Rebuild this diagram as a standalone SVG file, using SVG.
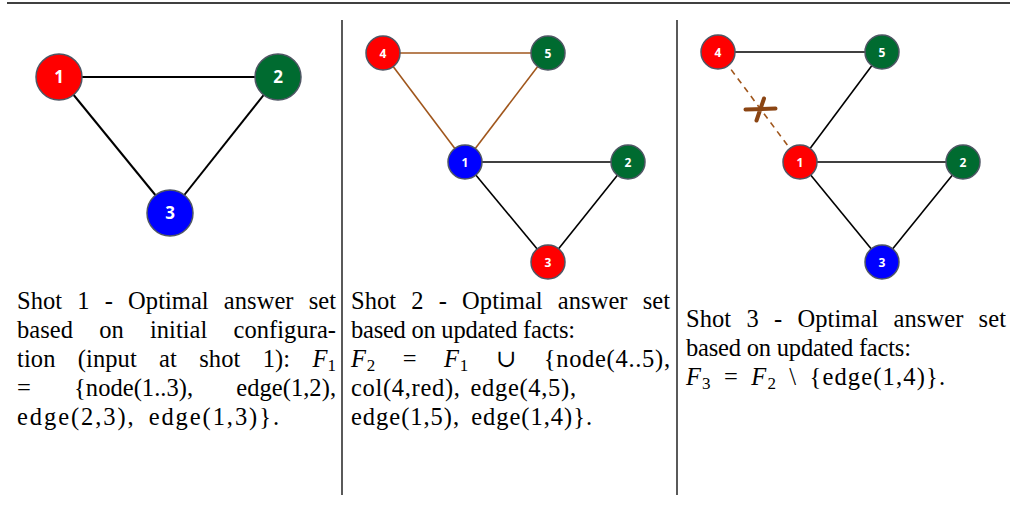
<svg xmlns="http://www.w3.org/2000/svg" width="1014" height="512" viewBox="0 0 1014 512">
<style>
.rule{stroke:#000;stroke-width:1.3}
.sep{stroke:#000;stroke-width:1.3}
.e{stroke:#000;stroke-width:2;fill:none}
.e2{stroke:#000;stroke-width:1.6;fill:none}
.b{stroke:#A0561C;stroke-width:1.6;fill:none}
.bd{stroke:#A0561C;stroke-width:1.6;fill:none;stroke-dasharray:6 5}
.x{stroke:#8B4513;stroke-width:4;stroke-linecap:round;fill:none}
.n{stroke:#4F5664;stroke-width:1.5}
.red{fill:#FF0000}.grn{fill:#006B30}.blu{fill:#0000FF}
.lb{font-family:"Open Sans","Liberation Sans",sans-serif;font-weight:bold;fill:#fff;text-anchor:middle}
.big{font-size:17px}.sm{font-size:12px}
.t{font-family:"Liberation Serif","DejaVu Serif",serif;font-size:24.5px;fill:#000}
.m{font-style:italic}
</style>
<line class="rule" x1="7" y1="3" x2="1010" y2="3"/>
<line class="sep" x1="342" y1="20" x2="342" y2="495"/>
<line class="sep" x1="677" y1="20" x2="677" y2="495"/>

<g id="connectors">
  <line class="e" x1="59" y1="77" x2="278" y2="77"/>
  <line class="e" x1="59" y1="77" x2="170" y2="213"/>
  <line class="e" x1="278" y1="77" x2="170" y2="213"/>

  <line class="b" x1="383" y1="53" x2="548" y2="53"/>
  <line class="b" x1="383" y1="53" x2="465" y2="162"/>
  <line class="b" x1="548" y1="53" x2="465" y2="162"/>
  <line class="e2" x1="465" y1="162" x2="628" y2="162"/>
  <line class="e2" x1="465" y1="162" x2="548" y2="262"/>
  <line class="e2" x1="628" y1="162" x2="548" y2="262"/>

  <line class="e2" x1="718" y1="52" x2="882" y2="52"/>
  <line class="bd" x1="718" y1="52" x2="800" y2="162"/>
  <line class="e2" x1="882" y1="52" x2="800" y2="162"/>
  <line class="e2" x1="800" y1="162" x2="963" y2="162"/>
  <line class="e2" x1="800" y1="162" x2="882" y2="262"/>
  <line class="e2" x1="963" y1="162" x2="882" y2="262"/>
  <path class="x" d="M745.5 109.5 L775.5 108.5 M764 98.5 L756.5 120.5"/>
</g>

<g id="p1n1"><circle class="n red" cx="59" cy="77" r="23"/><text class="lb big" x="59" y="83">1</text></g>
<g id="p1n2"><circle class="n grn" cx="278" cy="77" r="23"/><text class="lb big" x="278" y="83">2</text></g>
<g id="p1n3"><circle class="n blu" cx="170" cy="213" r="23"/><text class="lb big" x="170" y="219">3</text></g>

<g id="p2n4"><circle class="n red" cx="383" cy="53" r="17"/><text class="lb sm" x="383" y="57.5">4</text></g>
<g id="p2n5"><circle class="n grn" cx="548" cy="53" r="17"/><text class="lb sm" x="548" y="57.5">5</text></g>
<g id="p2n1"><circle class="n blu" cx="465" cy="162" r="17"/><text class="lb sm" x="465" y="166.5">1</text></g>
<g id="p2n2"><circle class="n grn" cx="628" cy="162" r="17"/><text class="lb sm" x="628" y="166.5">2</text></g>
<g id="p2n3"><circle class="n red" cx="548" cy="262" r="17"/><text class="lb sm" x="548" y="266.5">3</text></g>

<g id="p3n4"><circle class="n red" cx="718" cy="52" r="17"/><text class="lb sm" x="718" y="56.5">4</text></g>
<g id="p3n5"><circle class="n grn" cx="882" cy="52" r="17"/><text class="lb sm" x="882" y="56.5">5</text></g>
<g id="p3n1"><circle class="n red" cx="800" cy="162" r="17"/><text class="lb sm" x="800" y="166.5">1</text></g>
<g id="p3n2"><circle class="n grn" cx="963" cy="162" r="17"/><text class="lb sm" x="963" y="166.5">2</text></g>
<g id="p3n3"><circle class="n blu" cx="882" cy="262" r="17"/><text class="lb sm" x="882" y="266.5">3</text></g>

<g id="caption1" class="t">
  <text x="17" y="309" word-spacing="9" textLength="319" lengthAdjust="spacing">Shot 1 - Optimal answer set</text>
  <text x="17" y="338" word-spacing="20" textLength="319" lengthAdjust="spacing">based on initial configura-</text>
  <text x="17" y="367" word-spacing="16" textLength="319" lengthAdjust="spacing">tion (input at shot 1): <tspan class="m">F</tspan><tspan font-size="17" dy="4">1</tspan></text>
  <text x="17" y="396" word-spacing="37" textLength="319" lengthAdjust="spacing">= {node(1..3), edge(1,2),</text>
  <text x="17" y="425" word-spacing="5" textLength="262" lengthAdjust="spacing">edge(2,3), edge(1,3)}.</text>
</g>
<g id="caption2" class="t">
  <text x="351" y="309" word-spacing="9" textLength="319" lengthAdjust="spacing">Shot 2 - Optimal answer set</text>
  <text x="351" y="338" textLength="224" lengthAdjust="spacing">based on updated facts:</text>
  <text x="351" y="367" word-spacing="20" textLength="319" lengthAdjust="spacing"><tspan class="m">F</tspan><tspan font-size="17" dy="4">2</tspan><tspan dy="-4"> = </tspan><tspan class="m">F</tspan><tspan font-size="17" dy="4">1</tspan><tspan dy="-4"> ∪ {node(4..5),</tspan></text>
  <text x="351" y="396" word-spacing="3" textLength="225" lengthAdjust="spacing">col(4,red), edge(4,5),</text>
  <text x="351" y="425" word-spacing="4" textLength="241" lengthAdjust="spacing">edge(1,5), edge(1,4)}.</text>
</g>
<g id="caption3" class="t">
  <text x="686" y="327" word-spacing="9" textLength="320" lengthAdjust="spacing">Shot 3 - Optimal answer set</text>
  <text x="686" y="356" textLength="225" lengthAdjust="spacing">based on updated facts:</text>
  <text x="686" y="385" word-spacing="5" textLength="259" lengthAdjust="spacing"><tspan class="m">F</tspan><tspan font-size="17" dy="4">3</tspan><tspan dy="-4"> = </tspan><tspan class="m">F</tspan><tspan font-size="17" dy="4">2</tspan><tspan dy="-4"> \ {edge(1,4)}.</tspan></text>
</g>
</svg>
